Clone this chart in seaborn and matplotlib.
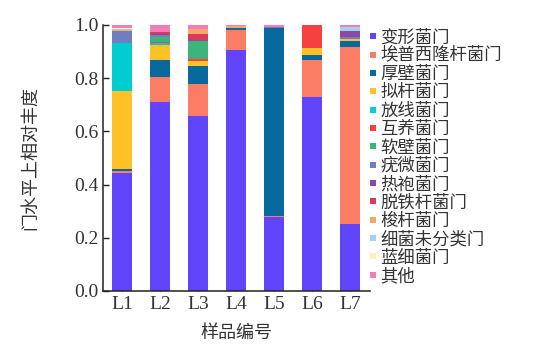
import numpy as np
import pandas as pd
import matplotlib
matplotlib.use("Agg")
import matplotlib.pyplot as plt
import seaborn as sns
from matplotlib.lines import Line2D

# samples
samples = ["L1", "L2", "L3", "L4", "L5", "L6", "L7"]

# phylum names (bottom -> top of stack)
phyla = ["变形菌门", "埃普西隆杆菌门", "厚壁菌门", "拟杆菌门", "放线菌门", "互养菌门",
         "软壁菌门", "疣微菌门", "热袍菌门", "脱铁杆菌门", "梭杆菌门", "细菌未分类门",
         "蓝细菌门", "其他"]

# relative abundance per phylum, one value per sample
proteobacteria   = [0.445, 0.712, 0.659, 0.906, 0.277, 0.728, 0.251]
epsilonbacteria  = [0.006, 0.094, 0.119, 0.075, 0.005, 0.140, 0.665]
firmicutes       = [0.006, 0.062, 0.069, 0.006, 0.706, 0.019, 0.024]
bacteroidetes    = [0.295, 0.057, 0.019, 0.002, 0.000, 0.025, 0.007]
actinobacteria   = [0.180, 0.006, 0.000, 0.000, 0.000, 0.000, 0.000]
synergistetes    = [0.000, 0.004, 0.005, 0.000, 0.000, 0.088, 0.000]
tenericutes      = [0.000, 0.020, 0.067, 0.000, 0.000, 0.000, 0.000]
verrucomicrobia  = [0.045, 0.008, 0.003, 0.000, 0.004, 0.000, 0.006]
thermotogae      = [0.000, 0.005, 0.003, 0.000, 0.000, 0.000, 0.024]
deferribacteres  = [0.000, 0.006, 0.021, 0.000, 0.000, 0.000, 0.000]
fusobacteria     = [0.003, 0.000, 0.020, 0.007, 0.000, 0.000, 0.000]
unclassified     = [0.004, 0.000, 0.000, 0.000, 0.000, 0.000, 0.015]
cyanobacteria    = [0.006, 0.000, 0.000, 0.000, 0.000, 0.000, 0.000]
others           = [0.010, 0.026, 0.015, 0.004, 0.008, 0.000, 0.008]

series = [proteobacteria, epsilonbacteria, firmicutes, bacteroidetes, actinobacteria,
          synergistetes, tenericutes, verrucomicrobia, thermotogae, deferribacteres,
          fusobacteria, unclassified, cyanobacteria, others]

colors = ["#6045FA", "#FC7D66", "#08699E", "#FFC125", "#00CDD2", "#F5413F",
          "#3DB47A", "#6E7EC0", "#8B4AA6", "#D93A5C", "#F7A866", "#A3D2EF",
          "#FFF3B2", "#F67CB6"]

sns.set_style("ticks")
plt.rcParams["font.family"] = ["Liberation Serif", "Noto Sans CJK SC"]
cjk = ["Noto Sans CJK SC", "DejaVu Sans"]

fig = plt.figure(figsize=(5.37, 3.57), dpi=100)
ax = fig.add_axes([0.192, 0.185, 0.497, 0.745])

bottom = np.zeros(len(samples))
for name, vals, col in zip(phyla, series, colors):
    df = pd.DataFrame({"sample": samples, "value": vals})
    sns.barplot(data=df, x="sample", y="value", color=col, width=0.52,
                bottom=bottom, errorbar=None, linewidth=0, saturation=1, ax=ax)
    bottom = bottom + np.array(vals)

ax.set_xlim(-0.5, 6.52)
ax.set_ylim(0, 1.0)
ax.set_yticks([0, 0.2, 0.4, 0.6, 0.8, 1.0])
ax.set_yticklabels(["0.0", "0.2", "0.4", "0.6", "0.8", "1.0"])
ax.tick_params(direction="in", length=4, width=1, labelsize=14, colors="#222222",
               labelcolor="#333333")
ax.set_xlabel("样品编号", family=cjk, fontsize=13, color="#333333", labelpad=8)
ax.set_ylabel("门水平上相对丰度", family=cjk, fontsize=13, color="#333333", labelpad=25)
for s in ["left", "bottom"]:
    ax.spines[s].set_linewidth(1.1)
    ax.spines[s].set_color("#222222")
sns.despine(ax=ax)

handles = [Line2D([0], [0], marker="s", linestyle="", markersize=5,
                  markerfacecolor=c, markeredgewidth=0) for c in colors]
leg = fig.legend(handles, phyla, loc="upper left", bbox_to_anchor=(0.668, 0.94),
                 frameon=False, prop={"family": cjk, "size": 12.5},
                 handletextpad=0.05, labelspacing=0.02, borderaxespad=0,
                 handlelength=0.8)
for t in leg.get_texts():
    t.set_color("#333333")

fig.savefig("out.png", dpi=100)
